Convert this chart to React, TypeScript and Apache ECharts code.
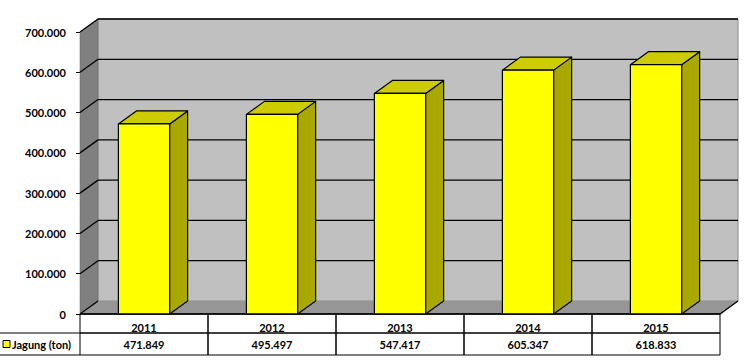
import React, { useEffect, useRef } from "react";
import * as echarts from "echarts";

const years = ["2011", "2012", "2013", "2014", "2015"];
const jagung = [471849, 495497, 547417, 605347, 618833];
const yTicks = [0, 100000, 200000, 300000, 400000, 500000, 600000, 700000];
const seriesName = "Jagung (ton)";

const DX = 18;
const DY = -13;
const FONT = "Lato, 'Open Sans', sans-serif";

const fmt = (v: number) =>
  Math.round(v)
    .toString()
    .replace(/\B(?=(\d{3})+(?!\d))/g, ".");

export default function App() {
  const ref = useRef<HTMLDivElement>(null);

  useEffect(() => {
    if (!ref.current) return;
    const chart = echarts.init(ref.current, null, { renderer: "svg" });

    const option: any = {
      animation: false,
      backgroundColor: "#ffffff",
      grid: { left: 80, right: 24, top: 32, bottom: 46 },
      xAxis: {
        type: "category",
        data: years,
        axisLine: { show: false },
        axisTick: { show: false },
        splitLine: { show: false },
        axisLabel: {
          margin: 8,
          lineHeight: 11,
          color: "#000",
          fontFamily: FONT,
          fontWeight: "bold",
          fontSize: 11,
        },
      },
      yAxis: {
        type: "value",
        min: 0,
        max: 700000,
        interval: 100000,
        axisLine: { show: true, lineStyle: { color: "#000", width: 1 } },
        axisTick: { show: true, length: 4, lineStyle: { color: "#000" } },
        splitLine: { show: false },
        axisLabel: {
          margin: 14,
          color: "#000",
          fontFamily: FONT,
          fontWeight: "bold",
          fontSize: 11,
          formatter: (v: number) => fmt(v),
        },
      },
      graphic: [
        {
          type: "line",
          shape: { x1: 0, y1: 333, x2: 80, y2: 333 },
          style: { stroke: "#000", lineWidth: 1 },
        },
        {
          type: "line",
          shape: { x1: 0, y1: 355, x2: 80, y2: 355 },
          style: { stroke: "#000", lineWidth: 1 },
        },
        {
          type: "rect",
          shape: { x: 3, y: 340.5, width: 7, height: 7 },
          style: { fill: "#ffff00", stroke: "#000", lineWidth: 1 },
        },
        {
          type: "text",
          x: 12,
          y: 344.5,
          style: {
            text: seriesName,
            fill: "#000",
            font: "bold 11px " + FONT,
            textVerticalAlign: "middle",
            verticalAlign: "middle",
          },
        },
      ],
      series: [
        {
          type: "custom",
          name: "walls",
          z: 1,
          clip: false,
          silent: true,
          data: [[0, 0]],
          renderItem: (params: any) => {
            const cs = params.coordSys;
            const x0 = cs.x;
            const y0 = cs.y;
            const w = cs.width;
            const h = cs.height;
            return {
              type: "group",
              children: [
                {
                  type: "rect",
                  shape: { x: x0 + DX, y: y0 + DY, width: w, height: h },
                  style: { fill: "#c0c0c0", stroke: "#8a8a8a", lineWidth: 1 },
                },
                {
                  type: "polygon",
                  shape: {
                    points: [
                      [x0, y0],
                      [x0 + DX, y0 + DY],
                      [x0 + DX, y0 + h + DY],
                      [x0, y0 + h],
                    ],
                  },
                  style: { fill: "#808080", stroke: "#666", lineWidth: 0.5 },
                },
                {
                  type: "polygon",
                  shape: {
                    points: [
                      [x0, y0 + h],
                      [x0 + w, y0 + h],
                      [x0 + w + DX, y0 + h + DY],
                      [x0 + DX, y0 + h + DY],
                    ],
                  },
                  style: { fill: "#969696", stroke: "none" },
                },
                {
                  type: "polyline",
                  shape: {
                    points: [
                      [x0, y0 + h],
                      [x0 + w, y0 + h],
                      [x0 + w + DX, y0 + h + DY],
                    ],
                  },
                  style: { stroke: "#000", lineWidth: 1.3, fill: "none" },
                },
              ],
            };
          },
        },
        {
          type: "custom",
          name: "grid",
          z: 2,
          clip: false,
          silent: true,
          data: yTicks.map((v) => [0, v]),
          renderItem: (params: any, api: any) => {
            const cs = params.coordSys;
            const v = api.value(1);
            const y = api.coord([0, v])[1];
            const children: any[] = [
              {
                type: "line",
                shape: { x1: cs.x, y1: y, x2: cs.x + DX, y2: y + DY },
                style: { stroke: "#000", lineWidth: 1.3 },
              },
            ];
            if (v !== 0) {
              children.push({
                type: "line",
                shape: {
                  x1: cs.x + DX,
                  y1: y + DY,
                  x2: cs.x + cs.width + DX,
                  y2: y + DY,
                },
                style: { stroke: "#000", lineWidth: 1.3 },
              });
            }
            return { type: "group", children };
          },
        },
        {
          type: "custom",
          name: seriesName,
          z: 3,
          clip: false,
          data: jagung.map((v, i) => [i, v]),
          renderItem: (params: any, api: any) => {
            const i = api.value(0);
            const v = api.value(1);
            const top = api.coord([i, v]);
            const base = api.coord([i, 0]);
            const bw = api.size([1, 0])[0] * 0.4;
            const l = top[0] - bw / 2;
            const r = l + bw;
            const yt = top[1];
            const yb = base[1];
            const st = { stroke: "#000", lineWidth: 1.2, lineJoin: "round" };
            return {
              type: "group",
              children: [
                {
                  type: "polygon",
                  shape: {
                    points: [
                      [r, yt],
                      [r + DX, yt + DY],
                      [r + DX, yb + DY],
                      [r, yb],
                    ],
                  },
                  style: { fill: "#a8a800", ...st },
                },
                {
                  type: "polygon",
                  shape: {
                    points: [
                      [l, yt],
                      [r, yt],
                      [r + DX, yt + DY],
                      [l + DX, yt + DY],
                    ],
                  },
                  style: { fill: "#cccc00", ...st },
                },
                {
                  type: "rect",
                  shape: { x: l, y: yt, width: bw, height: yb - yt },
                  style: { fill: "#ffff00", ...st },
                },
              ],
            };
          },
        },
        {
          type: "custom",
          name: "table",
          z: 4,
          clip: false,
          silent: true,
          data: jagung.map((v, i) => [i, v]),
          renderItem: (params: any, api: any) => {
            const cs = params.coordSys;
            const i = api.value(0);
            const v = api.value(1);
            const cx = api.coord([i, 0])[0];
            const cw = api.size([1, 0])[0];
            const yb = cs.y + cs.height;
            const ls = { stroke: "#000", lineWidth: 1, fill: "none" };
            return {
              type: "group",
              children: [
                {
                  type: "rect",
                  shape: { x: cx - cw / 2, y: yb, width: cw, height: 19 },
                  style: ls,
                },
                {
                  type: "rect",
                  shape: { x: cx - cw / 2, y: yb + 19, width: cw, height: 22 },
                  style: ls,
                },
                {
                  type: "text",
                  x: cx,
                  y: yb + 30.5,
                  style: {
                    text: fmt(v),
                    fill: "#000",
                    font: "bold 11px " + FONT,
                    textAlign: "center",
                    align: "center",
                    verticalAlign: "middle",
                    textVerticalAlign: "middle",
                  },
                },
              ],
            };
          },
        },
      ],
    };

    chart.setOption(option);
    return () => chart.dispose();
  }, []);

  return (
    <div
      ref={ref}
      style={{ position: "fixed", left: 0, top: 0, width: 744, height: 360 }}
    />
  );
}
